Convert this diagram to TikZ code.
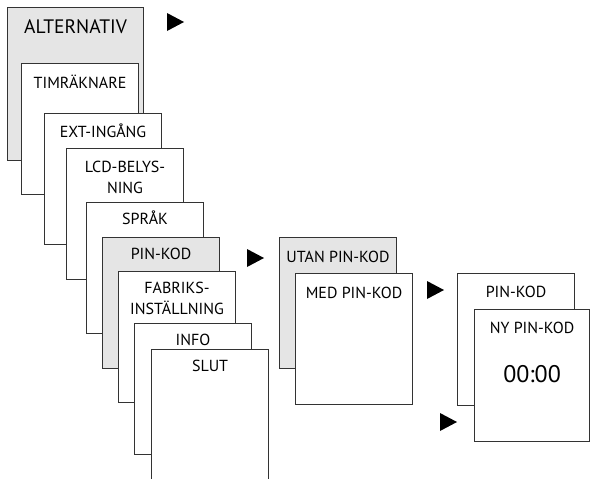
\documentclass[tikz,border=0pt]{standalone}
\usepackage{fontspec}
\setmainfont{PT Sans}

\begin{document}
\begin{tikzpicture}[x=1pt,y=-1pt]
	% Stilar for menyrutor, rubriker och pilar
	\tikzset{ruta/.style={draw=black!80, line width=1.1pt, fill=white, anchor=north west, inner sep=0pt, minimum width=117pt, minimum height=131pt},
		gra/.style={ruta, fill=black!10},
		rubrik/.style={anchor=base, inner sep=0pt, align=center, font=\fontsize{16}{21.5}\selectfont}}
	\useasboundingbox (0,0) rectangle (590,479);
	
	% Huvudmenyn, rutorna lagda ovanpa varandra
	\node[gra, minimum width=136pt, minimum height=153pt] (alternativ) at (7,7) {};
	\node[rubrik, font=\fontsize{19.5}{24}\selectfont] (t-alternativ) at ([yshift=-26pt]alternativ.north) {ALTERNATIV};
	\node[ruta] (timraknare) at (21,63) {};
	\node[rubrik] (t-timraknare) at ([yshift=-25pt]timraknare.north) {TIMRÄKNARE};
	\node[ruta] (extingang) at (44,113) {};
	\node[rubrik] (t-extingang) at ([yshift=-24pt]extingang.north) {EXT-INGÅNG};
	\node[ruta] (lcd) at (66,148) {};
	\node[rubrik] (t-lcd) at ([yshift=-45.5pt]lcd.north) {LCD-BELYS-\\NING};
	\node[ruta] (sprak) at (86,202) {};
	\node[rubrik] (t-sprak) at ([yshift=-22pt]sprak.north) {SPRÅK};
	\node[gra] (pinkod) at (102,237) {};
	\node[rubrik] (t-pinkod) at ([yshift=-22pt]pinkod.north) {PIN-KOD};
	\node[ruta] (fabrik) at (118,271) {};
	\node[rubrik] (t-fabrik) at ([yshift=-43.5pt]fabrik.north) {FABRIKS-\\INSTÄLLNING};
	\node[ruta] (info) at (134,323) {};
	\node[rubrik] (t-info) at ([yshift=-22pt]info.north) {INFO};
	\node[ruta, minimum height=145pt] (slut) at (151,349) {};
	\node[rubrik] (t-slut) at ([yshift=-22pt]slut.north) {SLUT};
	
	% PIN-kod val
	\node[gra] (utan) at (279,237) {};
	\node[rubrik] (t-utan) at ([yshift=-25pt]utan.north) {UTAN PIN-KOD};
	\node[ruta] (med) at (295,273) {};
	\node[rubrik] (t-med) at ([yshift=-25pt]med.north) {MED PIN-KOD};
	
	% Ny PIN-kod
	\node[ruta, minimum height=132pt] (pinkod2) at (457,273) {};
	\node[rubrik] (t-pinkod2) at ([yshift=-24pt]pinkod2.north) {PIN-KOD};
	\node[ruta, minimum width=115pt, minimum height=132pt] (nypinkod) at (474,309) {};
	\node[rubrik] (t-nypinkod) at ([yshift=-24pt]nypinkod.north) {NY PIN-KOD};
	\node[rubrik, font=\fontsize{24}{28}\selectfont] (t-tid) at ([yshift=-73pt]nypinkod.north) {00:00};
	
	% Pilar
	\fill (167,13) -- (184,22) -- (167,31) -- cycle;
	\fill (247,249) -- (264,258) -- (247,267) -- cycle;
	\fill (427,281) -- (444,290) -- (427,299) -- cycle;
	\fill (440,413) -- (457,422) -- (440,431) -- cycle;
\end{tikzpicture}
\end{document}
